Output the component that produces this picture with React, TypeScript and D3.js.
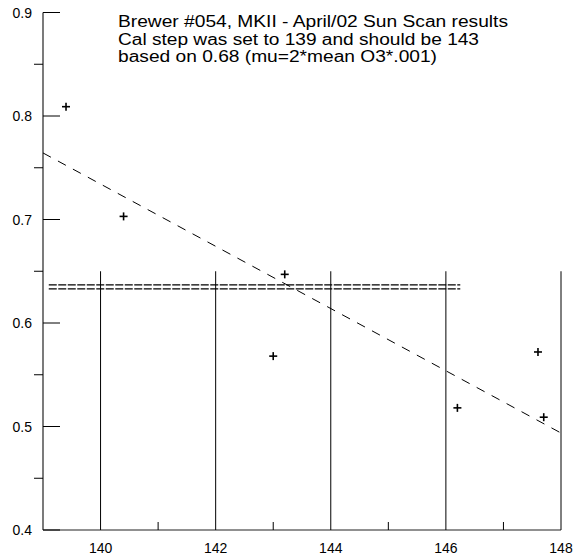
import React from "react";
import * as d3 from "d3";

const titleLines = [
  "Brewer #054, MKII - April/02 Sun Scan results",
  "Cal step was set to 139 and should be 143",
  "based on 0.68 (mu=2*mean O3*.001)",
];
const calStep = [139.4, 140.4, 143.2, 143.0, 146.2, 147.6, 147.7];
const ratio = [0.809, 0.703, 0.647, 0.568, 0.518, 0.572, 0.509];
const fitX = [139, 148];
const fitY = [0.7643, 0.4937];
const eqX = [139.1, 146.25];
const eqLevel = 0.635;
const xMajor = [140, 142, 144, 146, 148];
const xMinor = [141, 143, 145, 147];
const yMajor = [0.4, 0.5, 0.6, 0.7, 0.8, 0.9];
const yMinor = [0.45, 0.55, 0.65, 0.75, 0.85];
const xDomain = [139, 148];
const yDomain = [0.4, 0.9];
const gridTop = 0.65;

export default function App() {
  const W = 576, H = 560;
  const x = d3.scaleLinear().domain(xDomain).range([43, 561]);
  const y = d3.scaleLinear().domain(yDomain).range([530, 12.5]);
  const font = "'Liberation Sans', Arial, sans-serif";
  const fitLine = d3
    .line<number>()
    .x((d) => x(d))
    .y((_, i) => y(fitY[i]))(fitX);
  const titleWidths = [390, 361, 319];
  return (
    <svg
      width={W}
      height={H}
      style={{ position: "absolute", left: 0, top: 0, background: "#fff" }}
      fontFamily={font}
    >
      <rect width={W} height={H} fill="#fff" />
      {/* axes */}
      <line x1={x(xDomain[0])} x2={x(xDomain[0])} y1={y(yDomain[1])} y2={y(yDomain[0])} stroke="#222" strokeWidth={1.2} />
      <line x1={x(xDomain[0])} x2={x(xDomain[1])} y1={y(yDomain[0])} y2={y(yDomain[0])} stroke="#222" strokeWidth={1.2} />
      {yMajor.map((v) => (
        <g key={"ym" + v}>
          <line x1={x(xDomain[0])} x2={x(xDomain[0]) + 17} y1={y(v)} y2={y(v)} stroke="#000" />
          <text x={32} y={y(v)} dy="0.36em" textAnchor="end" fontSize={14}>
            {d3.format(".1f")(v)}
          </text>
        </g>
      ))}
      {yMinor.map((v) => (
        <line key={"yn" + v} x1={x(xDomain[0]) - 9} x2={x(xDomain[0])} y1={y(v)} y2={y(v)} stroke="#000" />
      ))}
      {xMajor.map((v) => (
        <g key={"xm" + v}>
          <line x1={x(v)} x2={x(v)} y1={y(yDomain[0])} y2={y(gridTop)} stroke="#000" />
          <text x={x(v)} y={553} textAnchor="middle" fontSize={14}>
            {v}
          </text>
        </g>
      ))}
      {xMinor.map((v) => (
        <line key={"xn" + v} x1={x(v)} x2={x(v)} y1={y(yDomain[0])} y2={y(yDomain[0]) - 8} stroke="#000" />
      ))}
      {/* double dashed level */}
      {[-2, 2].map((o) => (
        <line
          key={"eq" + o}
          x1={x(eqX[0])}
          x2={x(eqX[1])}
          y1={y(eqLevel) + o}
          y2={y(eqLevel) + o}
          stroke="#000"
          strokeWidth={1.2}
          strokeDasharray="8 1.5"
        />
      ))}
      {/* fit line */}
      <path d={fitLine || ""} fill="none" stroke="#000" strokeWidth={1} strokeDasharray="9 8" />
      {/* points */}
      {calStep.map((cx, i) => (
        <g key={"p" + i} stroke="#000" strokeWidth={1.6}>
          <line x1={x(cx) - 4} x2={x(cx) + 4} y1={y(ratio[i])} y2={y(ratio[i])} />
          <line x1={x(cx)} x2={x(cx)} y1={y(ratio[i]) - 4} y2={y(ratio[i]) + 4} />
        </g>
      ))}
      {/* title */}
      {titleLines.map((t, i) => (
        <text
          key={"t" + i}
          x={118}
          y={26.7 + i * 17.8}
          fontSize={16}
          textLength={titleWidths[i]}
          lengthAdjust="spacingAndGlyphs"
        >
          {t}
        </text>
      ))}
    </svg>
  );
}
